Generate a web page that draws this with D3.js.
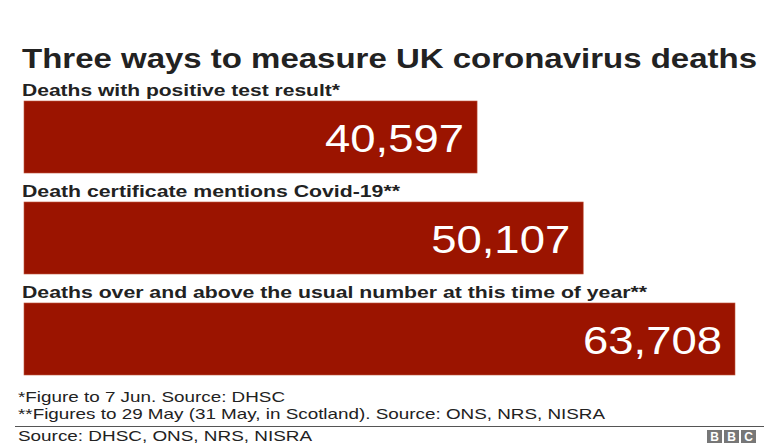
<!DOCTYPE html>
<html><head><meta charset="utf-8">
<script src="https://cdn.jsdelivr.net/npm/d3@7"></script>
<style>html,body{margin:0;padding:0;background:#fff;}svg{display:block;font-family:"Liberation Sans",Arial,sans-serif;}</style>
</head><body>
<svg id="c" width="764" height="445"></svg>
<script>
const categories = [
  "Deaths with positive test result*",
  "Death certificate mentions Covid-19**",
  "Deaths over and above the usual number at this time of year**"
];
const values = [40597, 50107, 63708];
const title = "Three ways to measure UK coronavirus deaths";
const footnotes = [
  "*Figure to 7 Jun. Source: DHSC",
  "**Figures to 29 May (31 May, in Scotland). Source: ONS, NRS, NISRA"
];
const source = "Source: DHSC, ONS, NRS, NISRA";

const svg = d3.select("#c");
const red = "#9b1400", ink = "#222222";

function fit(sel, target){
  sel.attr("textLength", target).attr("lengthAdjust", "spacingAndGlyphs");
}

const t = svg.append("text").attr("x", 22).attr("y", 68).attr("font-size", 28)
  .attr("font-weight", "bold").attr("fill", ink).text(title);
fit(t, 735);

const x = d3.scaleLinear().domain([0, d3.max(values)]).range([24, 735]);
const y = d3.scaleBand().domain(categories).range([101, 375]).paddingInner(0.287).paddingOuter(0);

const labelEnds = [340, 400, 647];
categories.forEach((c, i) => {
  const l = svg.append("text").attr("x", 22).attr("y", y(c) - 5).attr("font-size", 16)
    .attr("font-weight", "bold").attr("fill", ink).text(c);
  fit(l, labelEnds[i] - 22);
});

svg.selectAll("rect.bar").data(values).join("rect").attr("class", "bar")
  .attr("x", x(0)).attr("y", (d, i) => y(categories[i]))
  .attr("width", d => x(d) - x(0)).attr("height", y.bandwidth())
  .attr("fill", red).attr("stroke", "#c0583f").attr("stroke-width", 0.6);

svg.selectAll("text.val").data(values).join("text").attr("class", "val")
  .attr("x", d => x(d) - 13).attr("y", (d, i) => y(categories[i]) + y.bandwidth() / 2 + 15)
  .attr("text-anchor", "end").attr("font-size", 38).attr("fill", "#fff")
  .attr("textLength", 139).attr("lengthAdjust", "spacingAndGlyphs")
  .text(d => d3.format(",")(d));

const fnEnds = [285, 605];
footnotes.forEach((f, i) => {
  const s = svg.append("text").attr("x", 18).attr("y", 402 + i * 16.5).attr("font-size", 15)
    .attr("fill", ink).text(f);
  fit(s, fnEnds[i] - 18);
});
svg.append("line").attr("x1", 15).attr("x2", 764).attr("y1", 426.5).attr("y2", 426.5)
  .attr("stroke", "#555").attr("stroke-width", 1);
const src = svg.append("text").attr("x", 18).attr("y", 441).attr("font-size", 15).attr("fill", ink).text(source);
fit(src, 312 - 18);

const bbc = ["B", "B", "C"];
const g = svg.append("g");
bbc.forEach((ch, i) => {
  g.append("rect").attr("x", 707 + i * 17).attr("y", 430).attr("width", 15).attr("height", 13).attr("fill", "#777");
  g.append("text").attr("x", 707 + i * 17 + 7.5).attr("y", 441).attr("text-anchor", "middle")
    .attr("font-size", 12).attr("font-weight", "bold").attr("fill", "#fff").text(ch);
});
</script>
</body></html>
